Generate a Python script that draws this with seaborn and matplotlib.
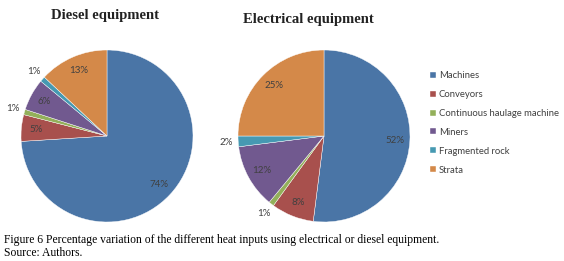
import matplotlib
matplotlib.use("Agg")
import matplotlib.pyplot as plt
import seaborn as sns
import numpy as np

categories = ["Machines", "Conveyors", "Continuous haulage machine", "Miners",
              "Fragmented rock", "Strata"]
diesel = [74, 5, 1, 6, 1, 13]
electrical = [52, 8, 1, 12, 2, 25]
titles = ["Diesel equipment", "Electrical equipment"]
caption = ["Figure 6 Percentage variation of the different heat inputs using electrical or diesel equipment.",
           "Source: Authors."]

sns.set_theme(style="white")
plt.rcParams['font.family'] = ['Lato', 'DejaVu Sans']
colors = sns.color_palette(["#4A75A6", "#A8504D", "#93B05A", "#71598F", "#4699B2", "#D48949"])

W, H = 564, 261
fig = plt.figure(figsize=(W / 100, H / 100), dpi=100)
fig.patch.set_facecolor("white")

def px_axes(cx, cy, r):
    return fig.add_axes([(cx - r) / W, (H - cy - r) / H, 2 * r / W, 2 * r / H])

centers = [(107, 136), (324, 136)]
title_pos = [(105, 15), (308, 19)]
R = 86
all_wedges = []
for data, (cx, cy), title, (tx, ty) in zip([diesel, electrical], centers, titles, title_pos):
    ax = px_axes(cx, cy, R)
    wedges, _ = ax.pie(data, colors=colors, startangle=90, counterclock=False,
                       radius=1, wedgeprops=dict(linewidth=0.3, edgecolor="white"))
    total = float(sum(data))
    for w, v in zip(wedges, data):
        ang = np.deg2rad((w.theta1 + w.theta2) / 2)
        d = 1.14 if v / total < 0.03 else 0.83
        ax.text(d * np.cos(ang), d * np.sin(ang), f"{v}%", ha="center", va="center",
                fontsize=7, color="#404040", clip_on=False)
    ax.set_xlim(-1, 1)
    ax.set_ylim(-1, 1)
    ax.set_aspect("equal")
    ax.axis("off")
    fig.text(tx / W, 1 - ty / H, title, ha="center", va="center", fontsize=10.5,
             fontweight="bold", family=["Liberation Serif", "DejaVu Serif"], color="#222222")
    all_wedges = wedges

leg = fig.legend(all_wedges, categories, loc="upper left",
                 bbox_to_anchor=(430 / W, 1 - 71 / H), frameon=False,
                 fontsize=6.8, handlelength=0.6, handleheight=0.6, handletextpad=0.35,
                 labelspacing=1.05, borderaxespad=0, borderpad=0)
for t in leg.get_texts():
    t.set_color("#404040")

for i, line in enumerate(caption):
    fig.text(4 / W, 1 - (240 + 13 * i) / H, line, ha="left", va="center", fontsize=8.4,
             family=["Liberation Serif", "DejaVu Serif"], color="black")

fig.savefig("out.png", dpi=100, facecolor="white")
